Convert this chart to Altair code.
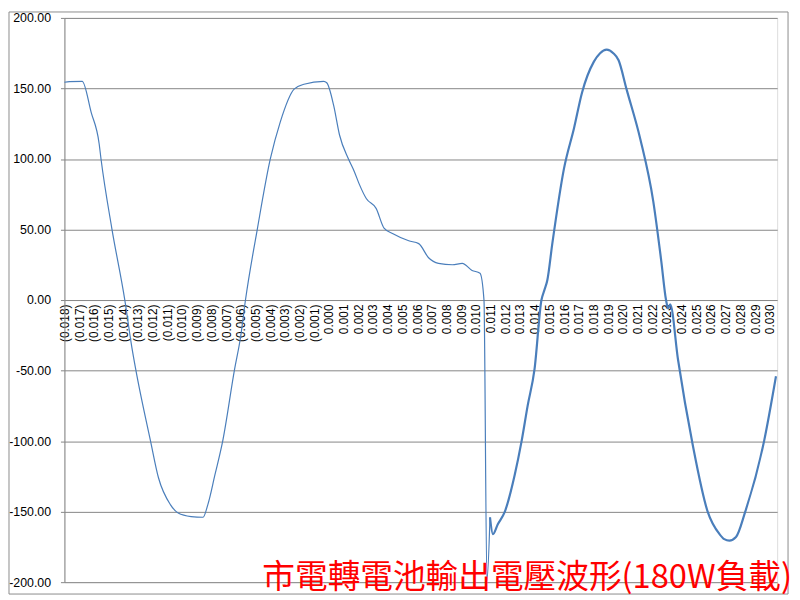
import altair as alt
import pandas as pd

# time (s) and voltage (V), two line segments
t_a = [-0.01800, -0.01766, -0.01679, -0.01618, -0.01564, -0.01551, -0.01477, -0.01389,
       -0.01342, -0.01315, -0.01214, -0.01160, -0.01079, -0.01026, -0.00938, -0.00857,
       -0.00824, -0.00776, -0.00723, -0.00642, -0.00601, -0.00568, -0.00487, -0.00399,
       -0.00332, -0.00237, -0.00170, -0.00036, -0.00015, 0.00032, 0.00072, 0.00133,
       0.00173, 0.00207, 0.00254, 0.00321, 0.00375, 0.00436, 0.00543, 0.00611,
       0.00678, 0.00745, 0.00840, 0.00907, 0.00974, 0.01028, 0.01055, 0.01075, 0.01096]
v_a = [154.4, 154.8, 155.0, 133, 111, 100, 50.5, 0,
       -33, -49, -100, -126, -145, -151, -153.5, -154,
       -145, -124, -100, -49, -26, 0, 50.5, 100,
       126, 149.5, 153, 155, 154, 138, 117, 100,
       91, 82, 72, 65, 51, 47, 42, 40,
       30, 26, 25, 26, 21, 19, 0, -199, -154]

t_b = [0.01096, 0.01116, 0.01149, 0.01197, 0.01264, 0.01311, 0.01352, 0.01399,
       0.01446, 0.01466, 0.01486, 0.01520, 0.01599, 0.01668, 0.01722, 0.01803,
       0.01845, 0.01890, 0.01935, 0.01971, 0.02025, 0.02119, 0.02207, 0.02261,
       0.02294, 0.02308, 0.02322, 0.02375, 0.02476, 0.02577, 0.02658, 0.02690,
       0.02725, 0.02770, 0.02833, 0.02961, 0.03042]
v_b = [-154, -166, -159, -150, -124, -100, -75, -49,
       0, 7, 14, 40, 93, 122, 147, 169,
       175, 177.5, 175, 170, 149.5, 114, 70, 28,
       0, -6, -3, -42, -103, -150, -166, -169.5,
       -170.5, -168, -150, -100, -54]

x_ticks = [-0.018, -0.017, -0.016, -0.015, -0.014, -0.013, -0.012, -0.011, -0.010,
           -0.009, -0.008, -0.007, -0.006, -0.005, -0.004, -0.003, -0.002, -0.001,
           0.000, 0.001, 0.002, 0.003, 0.004, 0.005, 0.006, 0.007, 0.008, 0.009,
           0.010, 0.011, 0.012, 0.013, 0.014, 0.015, 0.016, 0.017, 0.018, 0.019,
           0.020, 0.021, 0.022, 0.023, 0.024, 0.025, 0.026, 0.027, 0.028, 0.029, 0.030]
y_ticks = [-200, -150, -100, -50, 0, 50, 100, 150, 200]

title_text = "市電轉電池輸出電壓波形(180W負載)"

df = pd.DataFrame({
    "t": t_a + t_b,
    "v": v_a + v_b,
    "seg": ["a"] * len(t_a) + ["b"] * len(t_b),
})

W, H = 720, 570

line = alt.Chart(df).mark_line(color="#4a7ebb", interpolate="monotone").encode(
    x=alt.X("t:Q",
            scale=alt.Scale(domain=[-0.018, 0.0305], nice=False, zero=False),
            axis=alt.Axis(orient="bottom", offset=-285, domain=False, ticks=False, grid=False,
                          values=x_ticks, labelAngle=270, labelPadding=4, labelFontSize=12,
                          labelFont="Liberation Sans", labelColor="#000000",
                          labelOverlap=False, labelFlush=False, labelBound=False,
                          labelExpr="datum.value < -0.0000001 ? '(' + format(abs(datum.value), '.3f') + ')' : format(abs(datum.value), '.3f')",
                          title=None)),
    y=alt.Y("v:Q",
            scale=alt.Scale(domain=[-200, 200], nice=False),
            axis=alt.Axis(values=y_ticks, grid=True, gridColor="#868686", gridWidth=1,
                          domainColor="#868686", tickColor="#868686", tickSize=4,
                          labelPadding=10, labelFontSize=12.5, labelFont="Liberation Sans",
                          labelColor="#000000",
                          labelExpr="(datum.value < 0 ? '-' : '') + format(abs(datum.value), '.2f')",
                          title=None)),
    strokeWidth=alt.StrokeWidth("seg:N", scale=alt.Scale(domain=["a", "b"], range=[1.2, 2.2]),
                                legend=None),
)

one = pd.DataFrame({"label": [title_text]})

border = alt.Chart(one).mark_rect(fill=None, stroke="#8c8c8c", strokeWidth=1).encode(
    x=alt.value(-56), x2=alt.value(731), y=alt.value(-6), y2=alt.value(582)
)

title = alt.Chart(one).mark_text(
    align="right", baseline="middle", font="Noto Sans CJK TC", fontSize=33, color="#ff0000"
).encode(
    x=alt.value(735), y=alt.value(566), text="label:N"
)

chart = alt.layer(border, line, title).properties(
    width=W, height=H,
    padding={"left": 57, "top": 7, "right": 15, "bottom": 15},
    autosize=alt.AutoSizeParams(type="none"),
).configure_view(stroke=None).configure(background="#ffffff")

chart.save("out.html", embed_options={"renderer": "svg", "actions": False})
